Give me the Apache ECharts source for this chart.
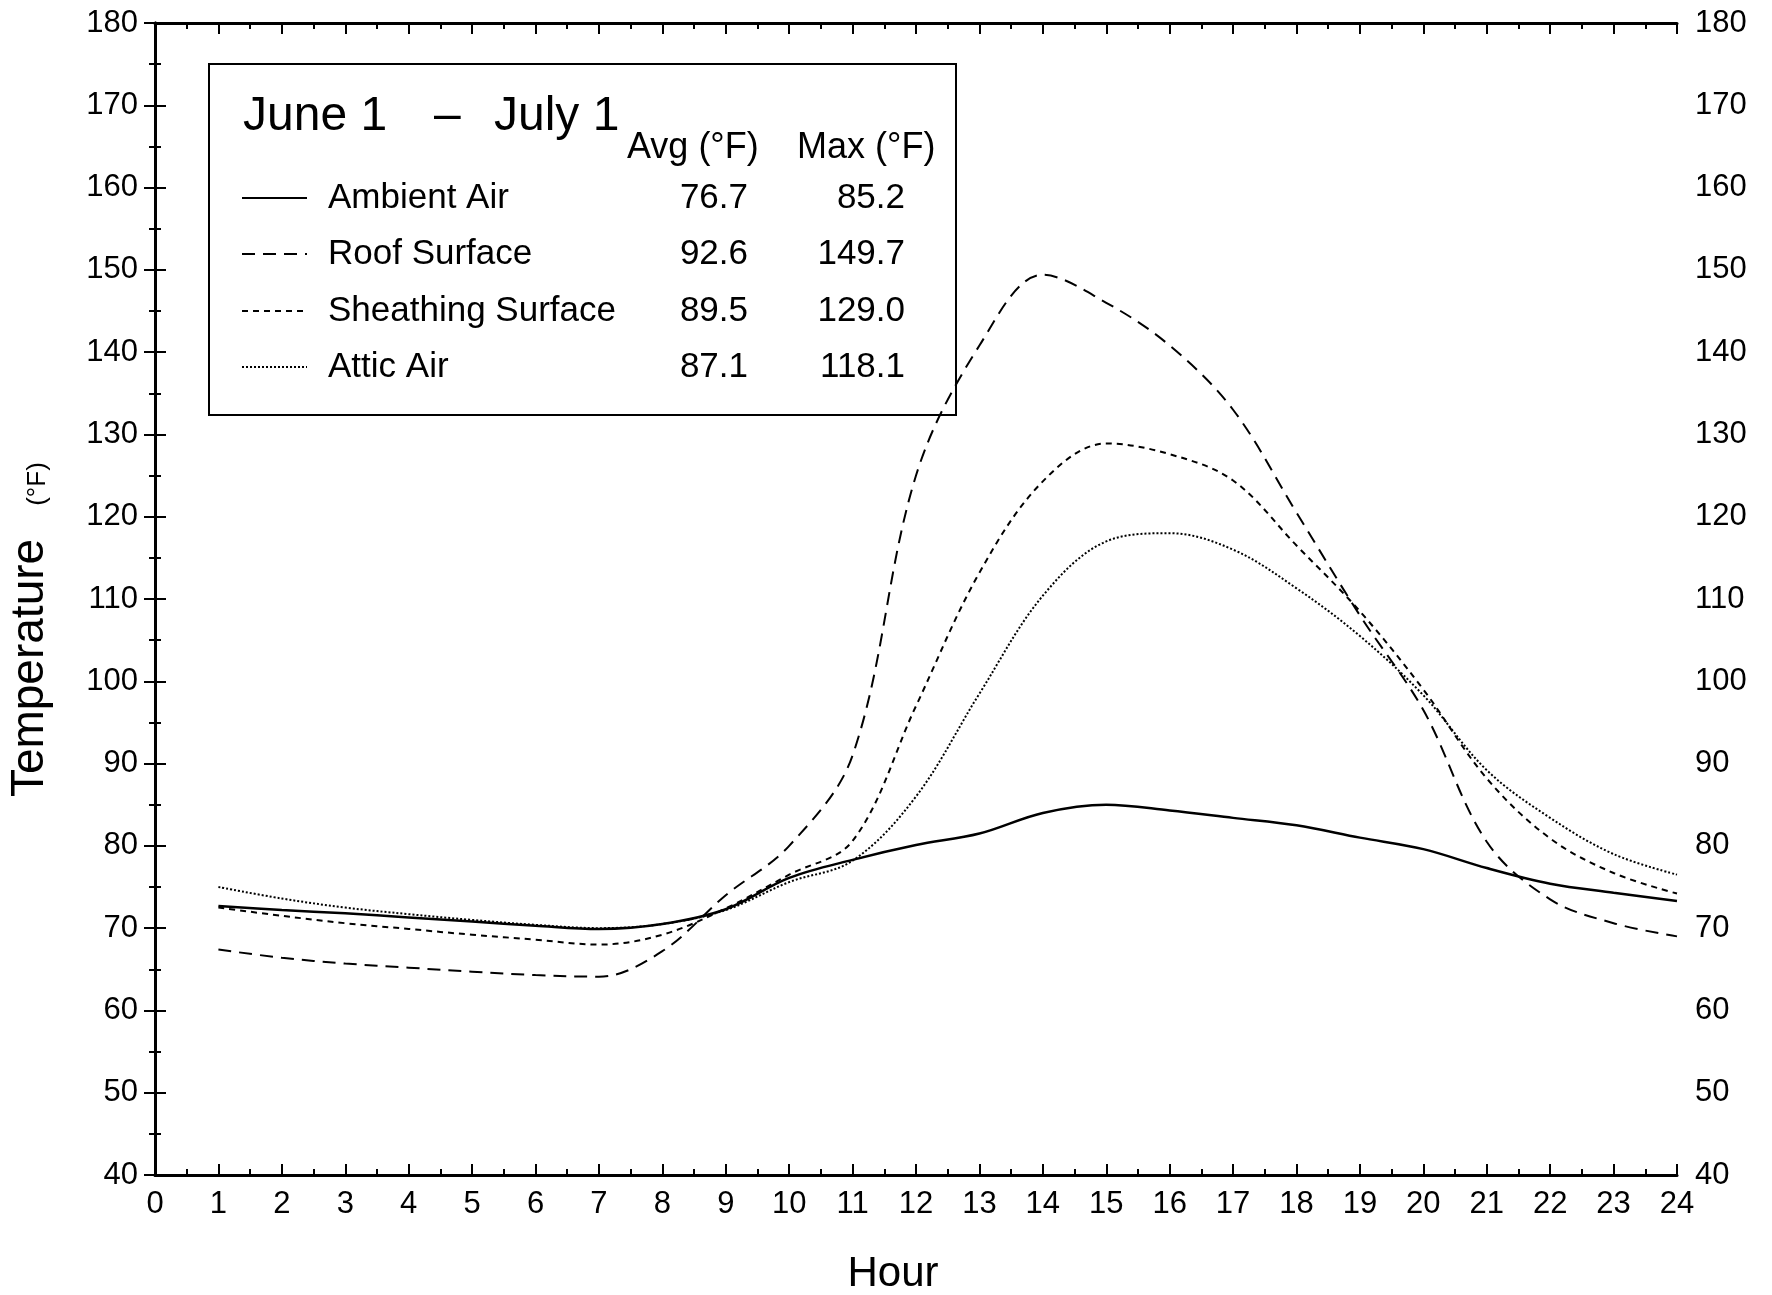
<!DOCTYPE html>
<html>
<head>
<meta charset="utf-8">
<title>June 1 - July 1 temperatures</title>
<script src="https://cdn.jsdelivr.net/npm/echarts@6/dist/echarts.min.js"></script>
<style>
  html, body { margin: 0; padding: 0; background: #fff; }
  #chart { width: 1772px; height: 1295px; }
</style>
</head>
<body>
<div id="chart"></div>
<script>
// hour of day
const hours = [1, 2, 3, 4, 5, 6, 7, 8, 9, 10, 11, 12, 13, 14, 15, 16, 17, 18, 19, 20, 21, 22, 23, 24]

// temperatures (°F)
const ambientAir = [72.7, 72.2, 71.8, 71.3, 70.8, 70.3, 69.9, 70.5, 72.3, 76.1, 78.3, 80.1,
  81.5, 84.0, 85.0, 84.3, 83.4, 82.5, 81.0, 79.6, 77.3, 75.4, 74.3, 73.3]
const roofSurface = [67.4, 66.4, 65.7, 65.2, 64.7, 64.3, 64.1, 67.2, 74.0, 80.0, 91.0, 125.0,
  140.8, 149.4, 146.0, 140.8, 133.0, 120.5, 108.0, 96.5, 80.5, 73.5, 70.6, 69.0]
const sheathingSurface = [72.5, 71.5, 70.6, 69.9, 69.2, 68.6, 68.0, 69.2, 72.4, 76.5, 80.6, 97.0,
  113.2, 124.3, 128.9, 127.6, 124.4, 116.5, 108.5, 99.0, 88.2, 80.9, 76.7, 74.2]
const atticAir = [75.0, 73.6, 72.5, 71.7, 71.0, 70.4, 70.0, 70.5, 72.2, 75.6, 78.2, 86.0,
  98.5, 110.4, 117.0, 118.0, 116.0, 111.3, 105.5, 98.3, 89.2, 83.4, 79.0, 76.5]

// legend table
const legendNames = ['Ambient Air', 'Roof Surface', 'Sheathing Surface', 'Attic Air']
const avgValues = ['76.7', '92.6', '89.5', '87.1']
const maxValues = ['85.2', '149.7', '129.0', '118.1']

const FONT = 'Liberation Sans'
const dashes = ['solid', [13, 8], [6, 5], [2, 2]]
const seriesData = [ambientAir, roofSurface, sheathingSurface, atticAir]

const chart = echarts.init(document.getElementById('chart'))

function axisCommon(extra) {
  return Object.assign({
    type: 'value',
    axisLine: { show: true, lineStyle: { color: '#000', width: 3 } },
    axisTick: { show: true, inside: true, length: 11, lineStyle: { color: '#000', width: 2 } },
    minorTick: { show: true, splitNumber: 2, length: 6, lineStyle: { color: '#000', width: 2 } },
    splitLine: { show: false },
    axisLabel: { color: '#000', fontFamily: FONT, fontSize: 31 }
  }, extra)
}

function txt(x, y, text, size, align) {
  return { type: 'text', x: x, y: y,
    style: { text: text, font: size + 'px "' + FONT + '"', fill: '#000',
      textAlign: align || 'left', textVerticalAlign: 'middle' } }
}

// legend box drawn as graphic elements
const legendGraphic = [
  { type: 'rect', shape: { x: 209, y: 64, width: 747, height: 351 },
    style: { fill: 'none', stroke: '#000', lineWidth: 2 }, z: 10 },
  txt(243, 117, 'June 1', 48),
  txt(434, 117, '\u2013', 48),
  txt(494, 117, 'July 1', 48),
  txt(627, 148, 'Avg (°F)', 36),
  txt(797, 148, 'Max (°F)', 36)
]
const rowY = [198, 254, 311, 367]
legendNames.forEach((name, i) => {
  legendGraphic.push({
    type: 'line', shape: { x1: 242, y1: rowY[i], x2: 307, y2: rowY[i] },
    style: { stroke: '#000', lineWidth: 2, lineDash: dashes[i] === 'solid' ? null : dashes[i] }
  })
  legendGraphic.push(txt(328, rowY[i], name, 35))
  legendGraphic.push(txt(748, rowY[i], avgValues[i], 35, 'right'))
  legendGraphic.push(txt(905, rowY[i], maxValues[i], 35, 'right'))
})

// axis titles
legendGraphic.push(Object.assign(txt(30, 668, 'Temperature', 46, 'center'), { rotation: Math.PI / 2 }))
legendGraphic.push(Object.assign(txt(38, 484, '(°F)', 26, 'center'), { rotation: Math.PI / 2 }))
legendGraphic.push(txt(893, 1274, 'Hour', 42, 'center'))

chart.setOption({
  backgroundColor: '#fff',
  animation: false,
  grid: { left: 155, right: 95, top: 23, bottom: 120 },
  xAxis: [
    axisCommon({ position: 'bottom', min: 0, max: 24, interval: 1,
      axisLabel: { color: '#000', fontFamily: FONT, fontSize: 31, margin: 14 } }),
    axisCommon({ position: 'top', min: 0, max: 24, interval: 1, axisLabel: { show: false } })
  ],
  yAxis: [
    axisCommon({ position: 'left', min: 40, max: 180, interval: 10,
      axisLabel: { color: '#000', fontFamily: FONT, fontSize: 31, margin: 17 } }),
    axisCommon({ position: 'right', min: 40, max: 180, interval: 10,
      axisLabel: { color: '#000', fontFamily: FONT, fontSize: 31, margin: 18 } })
  ],
  graphic: legendGraphic,
  series: seriesData.map((vals, i) => ({
    name: legendNames[i],
    type: 'line',
    xAxisIndex: 0,
    yAxisIndex: 0,
    showSymbol: false,
    smooth: 0.35,
    data: hours.map((h, k) => [h, vals[k]]),
    lineStyle: { color: '#000', width: i === 0 ? 2.5 : 2, type: dashes[i] }
  }))
})
</script>
</body>
</html>
